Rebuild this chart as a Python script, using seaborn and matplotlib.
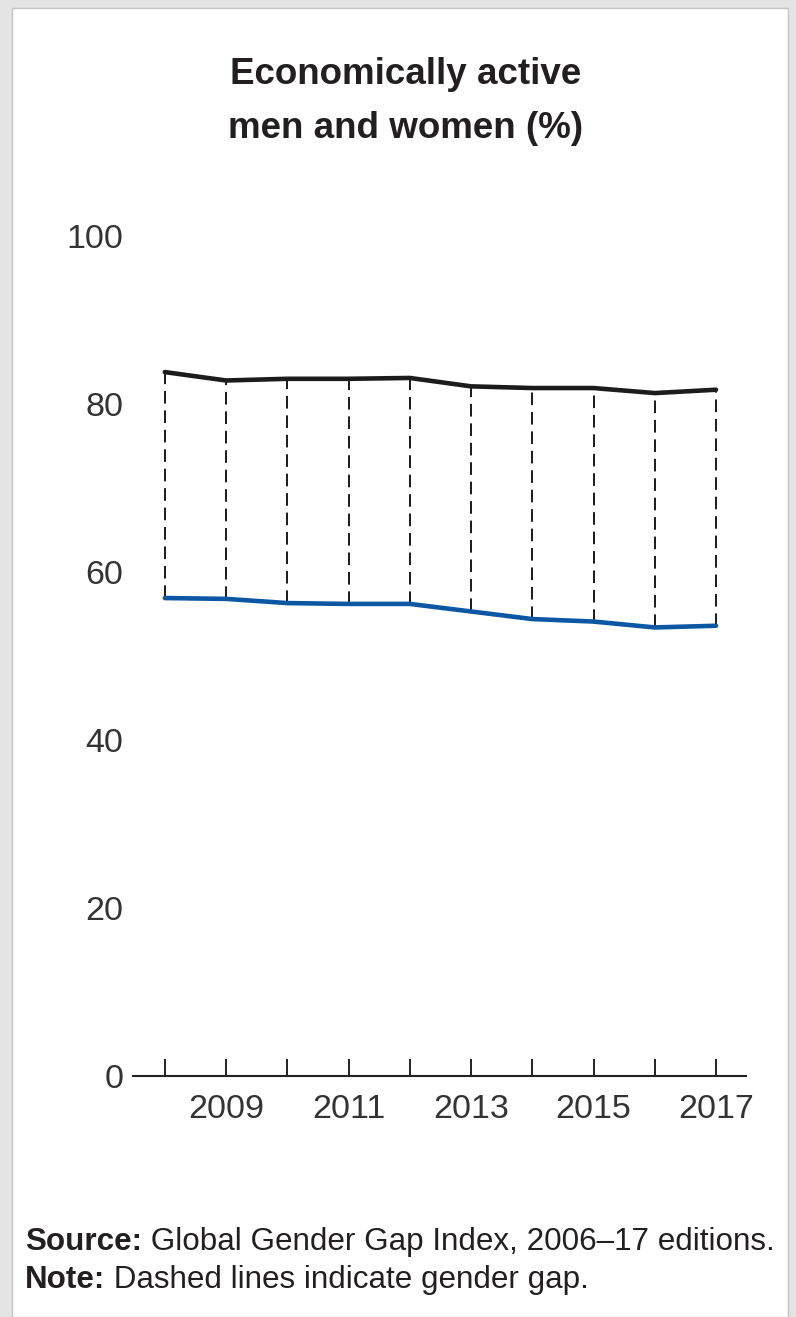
import matplotlib
matplotlib.use("Agg")
import matplotlib.pyplot as plt
import matplotlib.patches as mpatches
import seaborn as sns
import pandas as pd

# ---- data ----
years = [2008, 2009, 2010, 2011, 2012, 2013, 2014, 2015, 2016, 2017]
men = [83.8, 82.8, 83.0, 83.0, 83.1, 82.1, 81.9, 81.9, 81.3, 81.7]
women = [56.9, 56.8, 56.3, 56.2, 56.2, 55.3, 54.4, 54.1, 53.4, 53.6]
x_tick_labels = ["", "2009", "", "2011", "", "2013", "", "2015", "", "2017"]
y_ticks = [0, 20, 40, 60, 80, 100]
title_lines = ["Economically active", "men and women (%)"]
source_bold = "Source:"
source_text = " Global Gender Gap Index, 2006\u201317 editions."
note_bold = "Note:"
note_text = " Dashed lines indicate gender gap."

sns.set_theme(style="white")
plt.rcParams["font.family"] = ["Liberation Sans", "DejaVu Sans"]

W, H = 796, 1317
fig = plt.figure(figsize=(W / 100, H / 100), dpi=100)
fig.patch.set_facecolor("#e4e4e4")
panel = mpatches.Rectangle((12 / W, 0), (788 - 12) / W, 1 - 8 / H,
                           transform=fig.transFigure, facecolor="white",
                           edgecolor="#c4c4c4", linewidth=1.0, zorder=-10)
fig.patches.append(panel)

ax = fig.add_axes([133 / W, 1 - 1076 / H, (746 - 133) / W, (1076 - 236) / H])
ax.set_zorder(5)
ax.set_facecolor("none")

df = pd.DataFrame({
    "year": years * 2,
    "value": men + women,
    "group": ["Men"] * len(years) + ["Women"] * len(years),
})

ax.vlines(years, women, men, colors="#1a1a1a", linewidth=1.4,
          linestyles=(0, (6.5, 3.5)), zorder=1)
sns.lineplot(data=df, x="year", y="value", hue="group",
             palette={"Men": "#1c1c1c", "Women": "#0b57a4"},
             linewidth=3.3, legend=False, ax=ax, zorder=3)

ax.set_xlim(2007.48, 2017.49)
ax.set_ylim(0, 100)
ax.set_xticks(years)
ax.set_xticklabels(x_tick_labels)
ax.set_yticks(y_ticks)
ax.set_yticklabels([str(v) for v in y_ticks])
ax.set_xlabel("")
ax.set_ylabel("")

for s in ["top", "right", "left"]:
    ax.spines[s].set_visible(False)
ax.spines["bottom"].set_color("#222222")
ax.spines["bottom"].set_linewidth(1.5)

ax.tick_params(axis="x", direction="in", length=12.5, width=1.4, color="#222222",
               pad=13, labelsize=24.5, labelcolor="#333333", bottom=True)
ax.tick_params(axis="y", length=0, pad=7, labelsize=24.5, labelcolor="#333333", left=True)

# title
fig.text(406 / W, 1 - 75 / H, title_lines[0], ha="center", va="center",
         fontsize=26.5, fontweight="bold", color="#231f20")
fig.text(406 / W, 1 - 128 / H, title_lines[1], ha="center", va="center",
         fontsize=26.5, fontweight="bold", color="#231f20")

# source / note
renderer = fig.canvas.get_renderer()
for yy, b, t in [(1242, source_bold, source_text), (1280, note_bold, note_text)]:
    tb = fig.text(25 / W, 1 - yy / H, b, ha="left", va="center", fontsize=22.6,
                  fontweight="bold", color="#231f20")
    bb = tb.get_window_extent(renderer=renderer)
    fig.text(bb.x1 / W, 1 - yy / H, t, ha="left", va="center", fontsize=22.6,
             color="#231f20")

fig.savefig("out.png", dpi=100, facecolor=fig.get_facecolor())
